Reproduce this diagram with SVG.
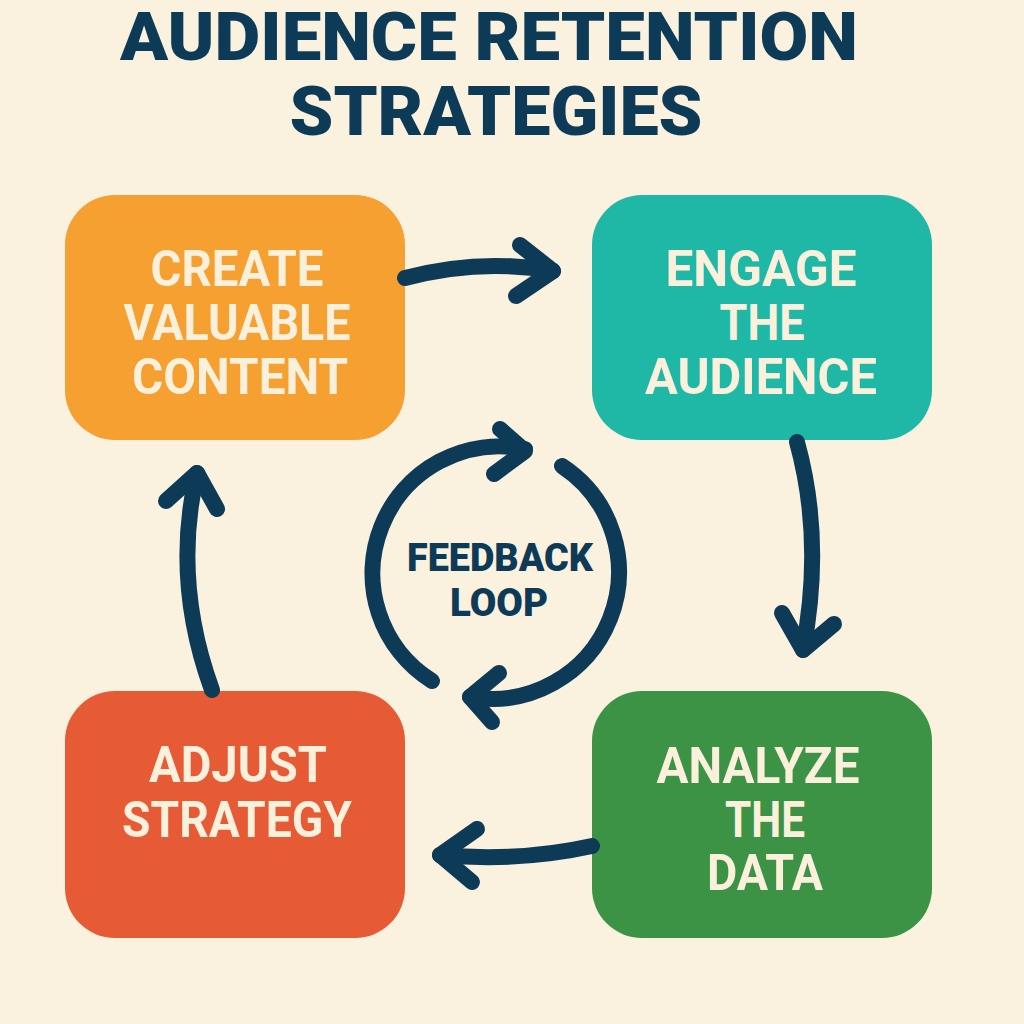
<svg xmlns="http://www.w3.org/2000/svg" width="1024" height="1024" viewBox="0 0 1024 1024">
<style>
.title{font-family:Roboto,"Liberation Sans",sans-serif;font-weight:900;fill:#0D3A56;text-anchor:middle}
.lbl{font-family:Roboto,"Liberation Sans",sans-serif;font-weight:700;fill:#FBF0DC;text-anchor:middle;font-size:50px}
.fb{font-family:Roboto,"Liberation Sans",sans-serif;font-weight:900;fill:#0D3A56;text-anchor:middle;font-size:38px}
.arr{fill:none;stroke:#0D3A56;stroke-width:16;stroke-linecap:round;stroke-linejoin:round}
</style>
<rect width="1024" height="1024" fill="#FAF1DF"/>
<g id="title">
<text class="title" x="489" y="60" font-size="66" textLength="738" lengthAdjust="spacingAndGlyphs">AUDIENCE RETENTION</text>
<text class="title" x="496" y="135" font-size="68" textLength="413" lengthAdjust="spacingAndGlyphs">STRATEGIES</text>
</g>
<g id="node-create">
<rect x="65" y="195" width="340" height="245" rx="50" fill="#F5A031"/>
<text class="lbl" x="237" y="286" textLength="173" lengthAdjust="spacingAndGlyphs">CREATE</text>
<text class="lbl" x="237" y="340" textLength="227" lengthAdjust="spacingAndGlyphs">VALUABLE</text>
<text class="lbl" x="240" y="394" textLength="216" lengthAdjust="spacingAndGlyphs">CONTENT</text>
</g>
<g id="node-engage">
<rect x="592" y="195" width="340" height="245" rx="50" fill="#1FB8A6"/>
<text class="lbl" x="761" y="286" textLength="191" lengthAdjust="spacingAndGlyphs">ENGAGE</text>
<text class="lbl" x="762" y="340" textLength="85" lengthAdjust="spacingAndGlyphs">THE</text>
<text class="lbl" x="761" y="394" textLength="232" lengthAdjust="spacingAndGlyphs">AUDIENCE</text>
</g>
<g id="node-adjust">
<rect x="65" y="691" width="340" height="247" rx="50" fill="#E65A36"/>
<text class="lbl" x="238" y="782" textLength="178" lengthAdjust="spacingAndGlyphs">ADJUST</text>
<text class="lbl" x="237" y="837" textLength="230" lengthAdjust="spacingAndGlyphs">STRATEGY</text>
</g>
<g id="node-analyze">
<rect x="592" y="691" width="340" height="247" rx="50" fill="#3C9346"/>
<text class="lbl" x="758" y="783" textLength="203" lengthAdjust="spacingAndGlyphs">ANALYZE</text>
<text class="lbl" x="765" y="837" textLength="80" lengthAdjust="spacingAndGlyphs">THE</text>
<text class="lbl" x="765" y="890" textLength="116" lengthAdjust="spacingAndGlyphs">DATA</text>
</g>
<g id="node-feedback">
<text class="fb" x="500" y="571" textLength="186" lengthAdjust="spacingAndGlyphs">FEEDBACK</text>
<text class="fb" x="499" y="616" textLength="98" lengthAdjust="spacingAndGlyphs">LOOP</text>
</g>
<g id="connectors" class="arr">
<path d="M405,278 Q480,258 553,271"/>
<polyline points="520,245 553,271 516,296"/>
<path d="M797,442 Q824,540 803,650"/>
<polyline points="782,613 803,650 834,624"/>
<path d="M592,846 Q520,862 440,855"/>
<polyline points="477,829 440,855 472,882"/>
<path d="M212,690 Q172,580 197,473"/>
<polyline points="166,501 197,473 217,509"/>
<path d="M432,681 A127,127 0 0 1 525,449"/>
<polyline points="500,429 525,451 494,474"/>
<path d="M562,466 A127,127 0 0 1 470,697"/>
<polyline points="499,673 470,697 492,722"/>
</g>
</svg>
